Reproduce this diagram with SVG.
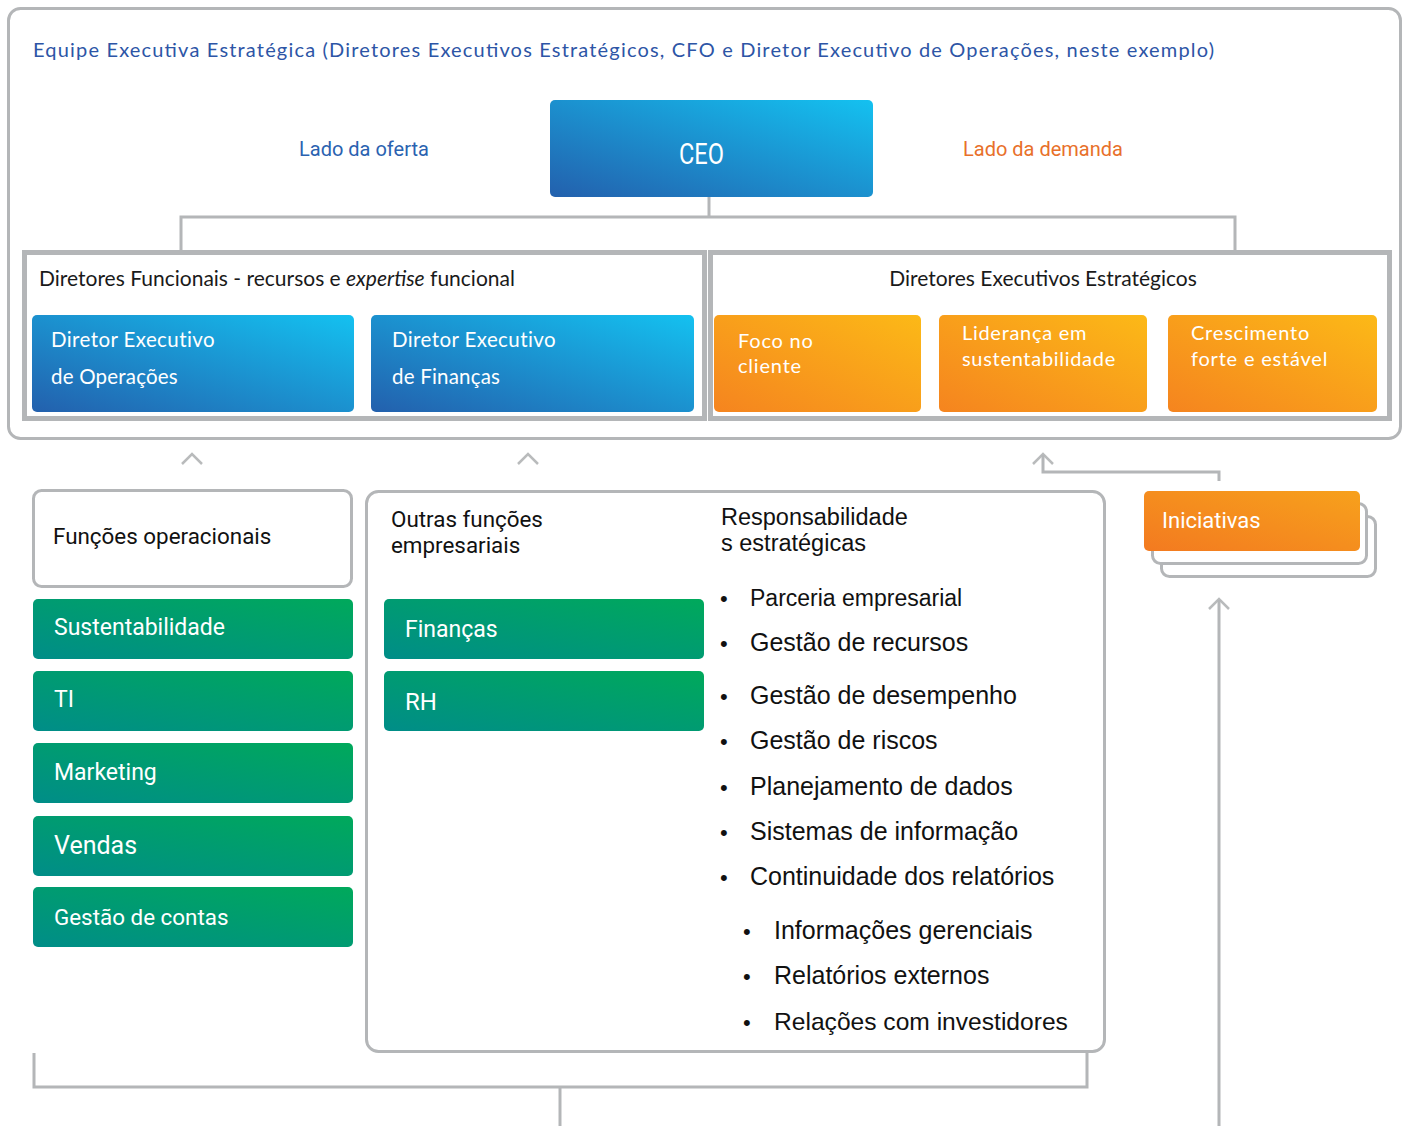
<svg xmlns="http://www.w3.org/2000/svg" width="1406" height="1126" viewBox="0 0 1406 1126">
  <defs>
    <linearGradient id="gBlue" x1="0" y1="1" x2="1" y2="0">
      <stop offset="0" stop-color="#2360ad"/>
      <stop offset="1" stop-color="#14c1f0"/>
    </linearGradient>
    <linearGradient id="gOrange" x1="0" y1="1" x2="1" y2="0">
      <stop offset="0" stop-color="#f5841f"/>
      <stop offset="1" stop-color="#fcb917"/>
    </linearGradient>
    <linearGradient id="gInit" x1="0" y1="1" x2="1" y2="0">
      <stop offset="0" stop-color="#f37a20"/>
      <stop offset="1" stop-color="#f7a11c"/>
    </linearGradient>
    <linearGradient id="gGreen" x1="0" y1="1" x2="1" y2="0">
      <stop offset="0" stop-color="#008d88"/>
      <stop offset="1" stop-color="#00a95b"/>
    </linearGradient>
    <style>
      .frame { fill: #ffffff; stroke: #b4b6b8; stroke-width: 3; }
      .line { fill: none; stroke: #b4b6b8; stroke-width: 3; }
      .chev { fill: none; stroke: #b9bbbc; stroke-width: 2.5; stroke-linejoin: miter; }
      .gill { font-family: Lato, "Open Sans", sans-serif; }
      .rob { font-family: Roboto, "Liberation Sans", sans-serif; }
      .ari { font-family: "Liberation Sans", Arial, sans-serif; fill: #111111; }
      .wt { fill: #ffffff; }
      .blue { fill: url(#gBlue); }
      .orange { fill: url(#gOrange); }
      .green { fill: url(#gGreen); }
    </style>
  </defs>

  <!-- executive team container -->
  <g id="executive-team">
    <rect class="frame" x="8.5" y="8.5" width="1392" height="430" rx="12"/>
    <text class="gill" x="33" y="57" font-size="20" fill="#2d55a6" textLength="1181" lengthAdjust="spacing">Equipe Executiva Estratégica (Diretores Executivos Estratégicos, CFO e Diretor Executivo de Operações, neste exemplo)</text>
    <text class="rob" x="299" y="156" font-size="20" fill="#2a62b0">Lado da oferta</text>
    <text class="rob" x="963" y="156" font-size="20" fill="#e8702a">Lado da demanda</text>
  </g>

  <!-- connectors -->
  <g id="connectors">
    <polyline class="line" points="709,197 709,217"/>
    <polyline class="line" points="181,251 181,217 1235,217 1235,251"/>
    <polyline class="chev" points="182,464 192,454 202,464"/>
    <polyline class="chev" points="518,464 528,454 538,464"/>
    <polyline class="chev" points="1033,464 1043,454 1053,464"/>
    <polyline class="line" points="1043,455 1043,472 1219,472 1219,481"/>
    <polyline class="chev" points="1209,609 1219,599 1229,609"/>
    <line class="line" x1="1219" y1="600" x2="1219" y2="1126"/>
    <polyline class="line" points="34,1053 34,1087 1087,1087 1087,1053"/>
    <line class="line" x1="560" y1="1087" x2="560" y2="1126"/>
  </g>

  <g id="ceo">
    <rect class="blue" x="550" y="100" width="323" height="97" rx="5"/>
    <text class="rob wt" x="679" y="164" font-size="29" textLength="45" lengthAdjust="spacingAndGlyphs">CEO</text>
  </g>

  <!-- directors frame -->
  <g id="directors-frame">
    <rect x="24.5" y="252.5" width="680" height="166" fill="none" stroke="#b4b6b8" stroke-width="5"/>
    <rect x="710.5" y="252.5" width="679" height="166" fill="none" stroke="#b4b6b8" stroke-width="5"/>
    <text class="gill" x="39" y="286" font-size="21" fill="#1a1a1a">Diretores Funcionais - recursos e <tspan font-style="italic">expertise</tspan> funcional</text>
    <text class="gill" x="1043" y="286" font-size="21" fill="#1a1a1a" text-anchor="middle">Diretores Executivos Estratégicos</text>
  </g>

  <g id="dir-operacoes">
    <rect class="blue" x="32" y="315" width="322" height="97" rx="5"/>
    <text class="gill wt" x="51" y="347" font-size="20.5" letter-spacing="0.4">Diretor Executivo</text>
    <text class="gill wt" x="51" y="384" font-size="20.5" letter-spacing="0.2">de Operações</text>
  </g>
  <g id="dir-financas">
    <rect class="blue" x="371" y="315" width="323" height="97" rx="5"/>
    <text class="gill wt" x="392" y="347" font-size="20.5" letter-spacing="0.4">Diretor Executivo</text>
    <text class="gill wt" x="392" y="384" font-size="20.5" letter-spacing="0.2">de Finanças</text>
  </g>

  <g id="foco-cliente">
    <rect class="orange" x="714" y="315" width="207" height="97" rx="5"/>
    <text class="gill wt" x="738" y="348" font-size="20" letter-spacing="0.8">Foco no</text>
    <text class="gill wt" x="738" y="373" font-size="20" letter-spacing="0.8">cliente</text>
  </g>
  <g id="lideranca">
    <rect class="orange" x="939" y="315" width="208" height="97" rx="5"/>
    <text class="gill wt" x="962" y="340" font-size="20" letter-spacing="0.7">Liderança em</text>
    <text class="gill wt" x="962" y="366" font-size="20" letter-spacing="0.7">sustentabilidade</text>
  </g>
  <g id="crescimento">
    <rect class="orange" x="1168" y="315" width="209" height="97" rx="5"/>
    <text class="gill wt" x="1191" y="340" font-size="20" letter-spacing="0.8">Crescimento</text>
    <text class="gill wt" x="1191" y="366" font-size="20" letter-spacing="0.8">forte e estável</text>
  </g>

  <!-- initiatives stack -->
  <g id="iniciativas">
    <rect class="frame" x="1161.5" y="516.5" width="214" height="60" rx="8"/>
    <rect class="frame" x="1152.5" y="503.5" width="214" height="60" rx="8"/>
    <rect fill="url(#gInit)" x="1144" y="491" width="216" height="60" rx="5"/>
    <text class="rob wt" x="1162" y="528" font-size="22">Iniciativas</text>
  </g>

  <!-- operational functions -->
  <g id="funcoes-operacionais">
    <rect class="frame" x="33.5" y="490.5" width="318" height="96" rx="8"/>
    <text class="rob" x="53" y="544" font-size="22.4" fill="#111111">Funções operacionais</text>
  </g>
  <g id="sustentabilidade">
    <rect class="green" x="33" y="599" width="320" height="60" rx="5"/>
    <text class="rob wt" x="54" y="635" font-size="23">Sustentabilidade</text>
  </g>
  <g id="ti">
    <rect class="green" x="33" y="671" width="320" height="60" rx="5"/>
    <text class="rob wt" x="54" y="707" font-size="23">TI</text>
  </g>
  <g id="marketing">
    <rect class="green" x="33" y="743" width="320" height="60" rx="5"/>
    <text class="rob wt" x="54" y="780" font-size="23">Marketing</text>
  </g>
  <g id="vendas">
    <rect class="green" x="33" y="816" width="320" height="60" rx="5"/>
    <text class="rob wt" x="54" y="854" font-size="25">Vendas</text>
  </g>
  <g id="gestao-contas">
    <rect class="green" x="33" y="887" width="320" height="60" rx="5"/>
    <text class="rob wt" x="54" y="925" font-size="22.4">Gestão de contas</text>
  </g>

  <!-- other business functions and strategic responsibilities -->
  <g id="outras-funcoes">
    <rect class="frame" x="366.5" y="491.5" width="738" height="560" rx="12"/>
    <text class="rob" x="391" y="527" font-size="22.4" fill="#111111">Outras funções</text>
    <text class="rob" x="391" y="553" font-size="22.4" fill="#111111">empresariais</text>
  </g>
  <g id="financas">
    <rect class="green" x="384" y="599" width="320" height="60" rx="5"/>
    <text class="rob wt" x="405" y="637" font-size="23">Finanças</text>
  </g>
  <g id="rh">
    <rect class="green" x="384" y="671" width="320" height="60" rx="5"/>
    <text class="rob wt" x="405" y="710" font-size="24">RH</text>
  </g>

  <g id="responsabilidades">
    <text class="ari" x="721" y="525" font-size="23.5">Responsabilidade</text>
    <text class="ari" x="721" y="551" font-size="23.5">s estratégicas</text>
    <g font-size="25">
      <text class="ari" x="720" y="606" font-size="22">•</text>
      <text class="ari" x="750" y="606" font-size="23">Parceria empresarial</text>
      <text class="ari" x="720" y="651" font-size="22">•</text>
      <text class="ari" x="750" y="651">Gestão de recursos</text>
      <text class="ari" x="720" y="704" font-size="22">•</text>
      <text class="ari" x="750" y="704">Gestão de desempenho</text>
      <text class="ari" x="720" y="749" font-size="22">•</text>
      <text class="ari" x="750" y="749">Gestão de riscos</text>
      <text class="ari" x="720" y="795" font-size="22">•</text>
      <text class="ari" x="750" y="795">Planejamento de dados</text>
      <text class="ari" x="720" y="840" font-size="22">•</text>
      <text class="ari" x="750" y="840">Sistemas de informação</text>
      <text class="ari" x="720" y="885" font-size="22">•</text>
      <text class="ari" x="750" y="885">Continuidade dos relatórios</text>
      <text class="ari" x="743" y="939" font-size="22">•</text>
      <text class="ari" x="774" y="939">Informações gerenciais</text>
      <text class="ari" x="743" y="984" font-size="22">•</text>
      <text class="ari" x="774" y="984">Relatórios externos</text>
      <text class="ari" x="743" y="1030" font-size="22">•</text>
      <text class="ari" x="774" y="1030" font-size="24.6">Relações com investidores</text>
    </g>
  </g>
</svg>
